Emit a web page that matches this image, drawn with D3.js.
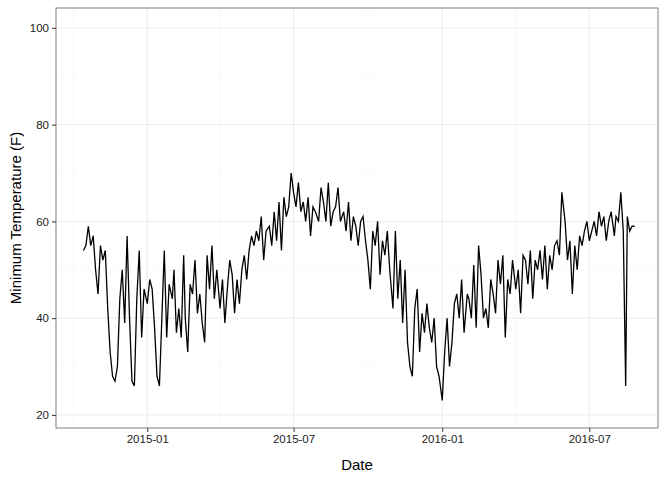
<!DOCTYPE html>
<html><head><meta charset="utf-8">
<script src="https://cdn.jsdelivr.net/npm/d3@7"></script>
<style>body{margin:0;background:#fff}text{font-family:"Liberation Sans",Arial,sans-serif}</style>
</head><body><svg id="c" width="672" height="480"></svg>
<script>
// monthly readings, spread evenly within each month
const months = ['2014-10','2014-11','2014-12','2015-01','2015-02','2015-03','2015-04','2015-05','2015-06','2015-07','2015-08','2015-09','2015-10','2015-11','2015-12','2016-01','2016-02','2016-03','2016-04','2016-05','2016-06','2016-07','2016-08'];
const temps = [
  [54,55,59,55,57,50],
  [45,55,52,54,42,33,28,27,30,44],
  [50,39,57,40,27,26,44,54,36,46],
  [43,48,46,38,28,26,40,54,36,47],
  [44,50,37,42,36,53,40,33,47,45],
  [52,41,45,39,35,53,46,55,44,50],
  [42,48,39,46,52,49,41,48,43,50],
  [53,48,54,57,55,58,56,61,52,58],
  [59,55,62,56,64,54,65,61,63,70],
  [66,63,68,62,64,60,65,57,63,62],
  [60,67,64,60,68,59,62,63,67,60],
  [62,58,64,56,61,59,55,60,61,56],
  [52,46,58,55,60,49,56,53,58,50],
  [42,58,44,52,39,50,35,30,28,42],
  [46,33,41,37,43,38,35,40,30,28],
  [23,33,40,30,35,43,45,40,48,37],
  [45,44,40,51,38,55,49,40,42,38],
  [48,45,41,52,47,53,36,48,45,52],
  [46,50,41,53,52,47,54,44,52,50],
  [54,48,55,46,53,50,55,56,53,66],
  [60,52,56,45,55,50,57,55,58,60],
  [56,58,60,57,62,59,61,56,60,62],
  [57,61,60,66,58,26,61,58,59,59]
];
const yTicks = [20,40,60,80,100];
const xTicks = ['2015-01','2015-07','2016-01','2016-07'];
const xMinor = ['2014-10','2015-04','2015-10','2016-04'];

const parse = d3.timeParse('%Y-%m');
const data = [];
months.forEach((m, i) => {
  const start = parse(m);
  const first = i === 0 ? 14 : 1;
  const last = i === months.length - 1 ? 28 : new Date(start.getFullYear(), start.getMonth() + 1, 0).getDate();
  const vals = temps[i];
  vals.forEach((v, k) => {
    const day = first + k * (last - first + 1) / vals.length;
    data.push({date: new Date(start.getFullYear(), start.getMonth(), day), temp: v});
  });
});

const svg = d3.select('#c');
const m = {l: 56, r: 14, t: 8, b: 52};
const w = 672 - m.l - m.r, h = 480 - m.t - m.b;
const g = svg.append('g').attr('transform', `translate(${m.l},${m.t})`);

const x = d3.scaleTime().domain([new Date(2014, 8, 10), new Date(2016, 8, 24)]).range([0, w]);
const y = d3.scaleLinear().domain([17.3, 104.1]).range([h, 0]);

g.selectAll('.ymin').data([30,50,70,90]).enter().append('line')
  .attr('x1', 0).attr('x2', w).attr('y1', d => y(d)).attr('y2', d => y(d))
  .attr('stroke', '#f2f2f2').attr('stroke-width', 0.5);
g.selectAll('.xmin').data(xMinor.map(parse)).enter().append('line')
  .attr('y1', 0).attr('y2', h).attr('x1', d => x(d)).attr('x2', d => x(d))
  .attr('stroke', '#f2f2f2').attr('stroke-width', 0.5);
g.selectAll('.ymaj').data(yTicks).enter().append('line')
  .attr('x1', 0).attr('x2', w).attr('y1', d => y(d)).attr('y2', d => y(d))
  .attr('stroke', '#ebebeb').attr('stroke-width', 1);
g.selectAll('.xmaj').data(xTicks.map(parse)).enter().append('line')
  .attr('y1', 0).attr('y2', h).attr('x1', d => x(d)).attr('x2', d => x(d))
  .attr('stroke', '#ebebeb').attr('stroke-width', 1);

g.append('path').datum(data)
  .attr('d', d3.line().x(d => x(d.date)).y(d => y(d.temp)))
  .attr('fill', 'none').attr('stroke', '#000').attr('stroke-width', 1.3);

g.append('rect').attr('width', w).attr('height', h)
  .attr('fill', 'none').attr('stroke', '#7f7f7f').attr('stroke-width', 1);

const xa = g.append('g').attr('transform', `translate(0,${h})`)
  .call(d3.axisBottom(x).tickValues(xTicks.map(parse)).tickFormat(d3.timeFormat('%Y-%m')).tickSize(4).tickPadding(3));
const ya = g.append('g')
  .call(d3.axisLeft(y).tickValues(yTicks).tickSize(4).tickPadding(3));
[xa, ya].forEach(a => {
  a.select('.domain').remove();
  a.selectAll('line').attr('stroke', '#333');
  a.selectAll('text').attr('fill', '#222').style('font-size', '11.5px');
});

svg.append('text').attr('x', m.l + w / 2).attr('y', 470).attr('text-anchor', 'middle')
  .style('font-size', '15px').text('Date');
svg.append('text').attr('transform', `translate(21,${m.t + h / 2}) rotate(-90)`)
  .attr('text-anchor', 'middle').style('font-size', '15px').text('Minimum Temperature (F)');
</script></body></html>
